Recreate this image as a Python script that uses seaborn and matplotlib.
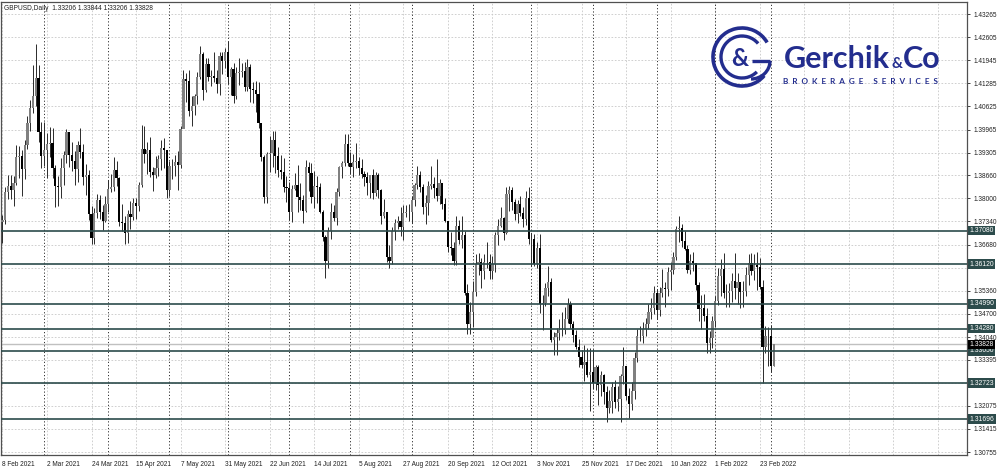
"""GBPUSD daily candles, Feb 2021 - Mar 2022, with support/resistance levels."""

import numpy as np
import pandas as pd
import seaborn as sns
import matplotlib.pyplot as plt
from matplotlib.patches import Arc
from matplotlib.transforms import blended_transform_factory

symbol = 'GBPUSD,Daily'
header_ohlc = ['1.33206', '1.33844', '1.33206', '1.33828']
start_date = '2021-02-08'
first_open = 1.3732

# daily closes / highs / lows (open = previous close)
closes = [
    1.3737, 1.3818, 1.3836, 1.3823, 1.3843, 1.3917, 1.3920, 1.3884, 1.3953, 1.4014, 1.4058, 1.4093, 1.4144, 1.3990, 1.3922,
    1.3937, 1.3954, 1.3957, 1.3887, 1.3834, 1.3832, 1.3887, 1.3923, 1.3990, 1.3925, 1.3906, 1.3883, 1.3951, 1.3933, 1.3862,
    1.3868, 1.3756, 1.3688, 1.3758, 1.3795, 1.3762, 1.3736, 1.3783,
    1.3828, 1.3832, 1.3880, 1.3857, 1.3733, 1.3729, 1.3702, 1.3756, 1.3748, 1.3787, 1.3779, 1.3839, 1.3942, 1.3928, 1.3937,
    1.3876, 1.3868, 1.3887, 1.3911, 1.3944, 1.3938, 1.3825,
    1.3892, 1.3893, 1.3905, 1.3895, 1.3998, 1.4140, 1.4136, 1.4050, 1.4064, 1.4093, 1.4148, 1.4212, 1.4110, 1.4185, 1.4148,
    1.4149, 1.4143, 1.4127, 1.4208, 1.4191, 1.4219,
    1.4148, 1.4170, 1.4091, 1.4158, 1.4162, 1.4163, 1.4117, 1.4175, 1.4112, 1.4109, 1.4099, 1.4014, 1.3918, 1.3803, 1.3926,
    1.3930, 1.3966, 1.3922, 1.3880, 1.3876, 1.3833, 1.3829,
    1.3762, 1.3826, 1.3837, 1.3803, 1.3795, 1.3764, 1.3890, 1.3873, 1.3805, 1.3834, 1.3832, 1.3762, 1.3690, 1.3620, 1.3708,
    1.3760, 1.3745, 1.3817, 1.3889, 1.3902, 1.3955, 1.3900,
    1.3890, 1.3904, 1.3906, 1.3886, 1.3870, 1.3861, 1.3845, 1.3866, 1.3816, 1.3866, 1.3825, 1.3749, 1.3760, 1.3632, 1.3622,
    1.3707, 1.3731, 1.3734, 1.3717, 1.3759, 1.3762, 1.3760,
    1.3796, 1.3837, 1.3868, 1.3832, 1.3776, 1.3788, 1.3835, 1.3840, 1.3829, 1.3806, 1.3843, 1.3784, 1.3736, 1.3660, 1.3659,
    1.3622, 1.3720, 1.3680, 1.3694, 1.3531, 1.3441, 1.3474,
    1.3532, 1.3612, 1.3618, 1.3592, 1.3618, 1.3617, 1.3593, 1.3613, 1.3695, 1.3721, 1.3744, 1.3702, 1.3813, 1.3825, 1.3789,
    1.3756, 1.3784, 1.3758, 1.3742, 1.3800, 1.3683,
    1.3684, 1.3612, 1.3658, 1.3497, 1.3500, 1.3544, 1.3560, 1.3395, 1.3403, 1.3416, 1.3425, 1.3424, 1.3455, 1.3497, 1.3440,
    1.3409, 1.3375, 1.3347, 1.3323, 1.3333, 1.3296, 1.3303,
    1.3274, 1.3318, 1.3266, 1.3296, 1.3248, 1.3202, 1.3222, 1.3262, 1.3219, 1.3228, 1.3293, 1.3322, 1.3235, 1.3212, 1.3250,
    1.3343, 1.3407, 1.3408, 1.3428, 1.3442, 1.3475, 1.3488, 1.3530,
    1.3482, 1.3530, 1.3545, 1.3540, 1.3590, 1.3594, 1.3633, 1.3712, 1.3714, 1.3677, 1.3656, 1.3596, 1.3620, 1.3614, 1.3552,
    1.3485, 1.3488, 1.3465, 1.3388, 1.3401, 1.3450,
    1.3508, 1.3579, 1.3599, 1.3530, 1.3531, 1.3535, 1.3565, 1.3545, 1.3561, 1.3533, 1.3535, 1.3581, 1.3616, 1.3592, 1.3609,
    1.3605, 1.3546, 1.3375, 1.3406, 1.3406, 1.33206, 1.33828,
]
highs = [
    1.3752, 1.3833, 1.3866, 1.3866, 1.3865, 1.3951, 1.3950, 1.3937, 1.3966, 1.4035, 1.4080, 1.4180, 1.4241, 1.4182, 1.4017,
    1.4017, 1.3987, 1.4003, 1.4002, 1.3895, 1.3865, 1.3916, 1.3934, 1.3999, 1.3986, 1.3960, 1.3935, 1.3965, 1.4001, 1.3954,
    1.3899, 1.3881, 1.3777, 1.3773, 1.3813, 1.3809, 1.3780, 1.3808,
    1.3851, 1.3869, 1.3919, 1.3908, 1.3861, 1.3785, 1.3751, 1.3766, 1.3792, 1.3801, 1.3801, 1.3846, 1.4009, 1.4008, 1.3960,
    1.3974, 1.3889, 1.3922, 1.3925, 1.3966, 1.3971, 1.3936,
    1.3906, 1.3911, 1.3924, 1.3936, 1.4006, 1.4166, 1.4159, 1.4167, 1.4091, 1.4097, 1.4160, 1.4234, 1.4219, 1.4200, 1.4200,
    1.4167, 1.4219, 1.4167, 1.4218, 1.4217, 1.4230,
    1.4249, 1.4176, 1.4187, 1.4176, 1.4200, 1.4188, 1.4190, 1.4198, 1.4185, 1.4131, 1.4136, 1.4131, 1.3988, 1.3925, 1.3932,
    1.3977, 1.3993, 1.3991, 1.3948, 1.3923, 1.3915, 1.3865,
    1.3848, 1.3839, 1.3871, 1.3896, 1.3844, 1.3811, 1.3909, 1.3905, 1.3901, 1.3878, 1.3863, 1.3845, 1.3766, 1.3696, 1.3719,
    1.3788, 1.3781, 1.3830, 1.3893, 1.3908, 1.3984, 1.3983,
    1.3933, 1.3926, 1.3959, 1.3918, 1.3911, 1.3879, 1.3876, 1.3868, 1.3884, 1.3874, 1.3872, 1.3826, 1.3798, 1.3760, 1.3667,
    1.3718, 1.3742, 1.3751, 1.3774, 1.3780, 1.3780, 1.3785,
    1.3808, 1.3843, 1.3891, 1.3878, 1.3841, 1.3810, 1.3849, 1.3891, 1.3860, 1.3913, 1.3855, 1.3842, 1.3800, 1.3736, 1.3704,
    1.3675, 1.3749, 1.3739, 1.3749, 1.3706, 1.3556, 1.3504,
    1.3563, 1.3640, 1.3643, 1.3630, 1.3640, 1.3674, 1.3640, 1.3634, 1.3705, 1.3740, 1.3774, 1.3746, 1.3833, 1.3834, 1.3832,
    1.3797, 1.3795, 1.3808, 1.3776, 1.3820, 1.3831,
    1.3700, 1.3697, 1.3674, 1.3697, 1.3525, 1.3559, 1.3607, 1.3573, 1.3419, 1.3429, 1.3455, 1.3476, 1.3489, 1.3514, 1.3508,
    1.3449, 1.3423, 1.3399, 1.3367, 1.3380, 1.3373, 1.3374,
    1.3371, 1.3324, 1.3324, 1.3306, 1.3297, 1.3263, 1.3252, 1.3275, 1.3282, 1.3263, 1.3299, 1.3375, 1.3315, 1.3259, 1.3276,
    1.3361, 1.3426, 1.3436, 1.3446, 1.3457, 1.3498, 1.3515, 1.3549,
    1.3540, 1.3548, 1.3599, 1.3561, 1.3603, 1.3619, 1.3647, 1.3722, 1.3749, 1.3728, 1.3707, 1.3666, 1.3640, 1.3646, 1.3614,
    1.3560, 1.3523, 1.3528, 1.3487, 1.3420, 1.3463,
    1.3520, 1.3600, 1.3628, 1.3644, 1.3554, 1.3558, 1.3588, 1.3643, 1.3586, 1.3559, 1.3563, 1.3604, 1.3641, 1.3643, 1.3642,
    1.3646, 1.3630, 1.3567, 1.3436, 1.3433, 1.3437, 1.33844,
]
lows = [
    1.3672, 1.3727, 1.3797, 1.3797, 1.3778, 1.3837, 1.3859, 1.3806, 1.3854, 1.3942, 1.3991, 1.4045, 1.4064, 1.3960, 1.3888,
    1.3891, 1.3858, 1.3917, 1.3858, 1.3776, 1.3778, 1.3800, 1.3838, 1.3901, 1.3890, 1.3878, 1.3837, 1.3846, 1.3915, 1.3837,
    1.3810, 1.3738, 1.3670, 1.3670, 1.3744, 1.3741, 1.3711, 1.3732,
    1.3761, 1.3817, 1.3822, 1.3834, 1.3720, 1.3708, 1.3669, 1.3673, 1.3712, 1.3737, 1.3740, 1.3765, 1.3831, 1.3900, 1.3870,
    1.3860, 1.3822, 1.3857, 1.3864, 1.3880, 1.3888, 1.3801,
    1.3808, 1.3854, 1.3865, 1.3825, 1.3887, 1.4000, 1.4076, 1.4036, 1.4006, 1.4038, 1.4069, 1.4140, 1.4081, 1.4103, 1.4134,
    1.4121, 1.4133, 1.4101, 1.4094, 1.4154, 1.4173,
    1.4128, 1.4094, 1.4073, 1.4083, 1.4125, 1.4146, 1.4106, 1.4106, 1.4075, 1.4072, 1.4048, 1.4002, 1.3908, 1.3787, 1.3787,
    1.3876, 1.3889, 1.3872, 1.3861, 1.3856, 1.3819, 1.3791,
    1.3739, 1.3732, 1.3823, 1.3760, 1.3768, 1.3730, 1.3760, 1.3821, 1.3786, 1.3772, 1.3787, 1.3758, 1.3677, 1.3572, 1.3601,
    1.3685, 1.3736, 1.3723, 1.3808, 1.3857, 1.3891, 1.3893,
    1.3870, 1.3862, 1.3888, 1.3866, 1.3859, 1.3835, 1.3810, 1.3800, 1.3797, 1.3807, 1.3800, 1.3728, 1.3744, 1.3617, 1.3601,
    1.3613, 1.3680, 1.3713, 1.3692, 1.3681, 1.3747, 1.3736,
    1.3731, 1.3778, 1.3827, 1.3819, 1.3755, 1.3726, 1.3752, 1.3826, 1.3800, 1.3793, 1.3785, 1.3770, 1.3732, 1.3646, 1.3639,
    1.3611, 1.3611, 1.3671, 1.3659, 1.3524, 1.3412, 1.3412,
    1.3433, 1.3520, 1.3582, 1.3545, 1.3570, 1.3600, 1.3569, 1.3570, 1.3591, 1.3667, 1.3718, 1.3680, 1.3697, 1.3765, 1.3768,
    1.3739, 1.3730, 1.3749, 1.3717, 1.3725, 1.3671,
    1.3606, 1.3606, 1.3602, 1.3473, 1.3425, 1.3493, 1.3522, 1.3389, 1.3352, 1.3353, 1.3396, 1.3406, 1.3412, 1.3443, 1.3429,
    1.3389, 1.3369, 1.3318, 1.3316, 1.3278, 1.3290, 1.3194,
    1.3256, 1.3252, 1.3209, 1.3235, 1.3214, 1.3160, 1.3188, 1.3186, 1.3201, 1.3192, 1.3162, 1.3271, 1.3224, 1.3174, 1.3195,
    1.3228, 1.3334, 1.3394, 1.3387, 1.3407, 1.3428, 1.3455, 1.3469,
    1.3456, 1.3465, 1.3519, 1.3491, 1.3522, 1.3538, 1.3583, 1.3625, 1.3675, 1.3662, 1.3652, 1.3587, 1.3584, 1.3592, 1.3537,
    1.3451, 1.3426, 1.3451, 1.3359, 1.3358, 1.3372,
    1.3433, 1.3496, 1.3522, 1.3516, 1.3489, 1.3490, 1.3505, 1.3513, 1.3497, 1.3487, 1.3491, 1.3521, 1.3552, 1.3582, 1.3568,
    1.3538, 1.3540, 1.3272, 1.3358, 1.3322, 1.3305, 1.33206,
]

levels = [1.37080, 1.36120, 1.34990, 1.34280, 1.33650, 1.32723, 1.31696]
last_price = 1.33828
price_ticks = [1.43265, 1.42605, 1.41945, 1.41285, 1.40625, 1.39965, 1.39305, 1.38660, 1.38000, 1.37340,
               1.36680, 1.36020, 1.35360, 1.34700, 1.34040, 1.33395, 1.32735, 1.32075, 1.31415, 1.30755]
hidden_ticks = [1.36020, 1.32735]  # covered by level labels in the terminal

LEVEL_COLOR = '#2c4b4b'
LOGO_COLOR = '#232d8e'

df = pd.DataFrame({'close': closes, 'high': highs, 'low': lows})
df['open'] = [first_open] + closes[:-1]
df['date'] = pd.bdate_range(start_date, periods=len(df))
df['bull'] = df['close'] >= df['open']

sns.set_theme(style='white')
plt.rcParams['font.family'] = ['Liberation Sans', 'DejaVu Sans']

fig = plt.figure(figsize=(10, 4.68), dpi=100)
ax = fig.add_axes([1 / 1000, 1 - 455 / 468, 966 / 1000, 453 / 468])
ax.set_facecolor('white')

xmin, xmax = -0.5, 346.4
ax.set_xlim(xmin, xmax)
ax.set_ylim(1.30670, 1.43608)

# grid: light dashed at ticks, dotted separators at month starts
tick_idx = np.arange(0, int(xmax) + 1, 16)
for p in price_ticks:
    ax.axhline(p, color='#c8c8c8', lw=0.6, ls=(0, (2, 2)), zorder=0)
for i in tick_idx:
    ax.axvline(i, color='#c8c8c8', lw=0.6, ls=(0, (2, 2)), zorder=0)
month_starts = df.index[df['date'].dt.month != df['date'].shift().dt.month][1:]
for i in month_starts:
    ax.axvline(i, color='#303030', lw=0.7, ls=(0, (1.2, 2.2)), zorder=1)

# candles
ax.vlines(df.index, df['low'], df['high'], color='#2a2a2a', lw=0.7, zorder=3)
body = (df['close'] - df['open']).abs().clip(lower=0.00006)
ax.bar(df.index, body, bottom=df[['open', 'close']].min(axis=1), width=0.8,
       color=np.where(df['bull'], '#808080', '#000000'), linewidth=0, zorder=4)

# levels
trans = blended_transform_factory(ax.transAxes, ax.transData)
ax.axhline(last_price, color='#c0c0c0', lw=1.0, zorder=2)
for lv in levels:
    ax.axhline(lv, color=LEVEL_COLOR, lw=1.2, zorder=5)

# axes / ticks
ax.yaxis.tick_right()
ax.set_yticks(price_ticks)
ax.set_yticklabels(['' if p in hidden_ticks else f'{p:.5f}' for p in price_ticks])
ax.tick_params(axis='y', labelsize=4.7, length=2.5, width=0.6, pad=2, colors='#202020')
lab_idx = [i for i in tick_idx if i < len(df)]
ax.set_xticks(lab_idx)
ax.set_xticklabels([f"{d.day} {d:%b %Y}" for d in df['date'].iloc[lab_idx]], ha='left')
ax.tick_params(axis='x', labelsize=4.7, length=2.5, width=0.6, pad=1.5, colors='#202020')
for s in ax.spines.values():
    s.set_color('#505050')
    s.set_linewidth(0.9)

for lv in levels:
    ax.text(1.0025, lv, f'{lv:.5f}', transform=trans, fontsize=4.9, color='white', va='center', ha='left',
            bbox=dict(boxstyle='square,pad=0.2', fc=LEVEL_COLOR, ec='none'), zorder=10, clip_on=False)
ax.text(1.0025, last_price, f'{last_price:.5f}', transform=trans, fontsize=4.9, color='white', va='center',
        ha='left', bbox=dict(boxstyle='square,pad=0.2', fc='black', ec='none'), zorder=11, clip_on=False)

ax.text(0.003, 0.993, f"{symbol}  {' '.join(header_ohlc)}", transform=ax.transAxes, fontsize=4.8,
        va='top', ha='left', color='#202020')

# logo overlay in pixel coordinates
lg = fig.add_axes([0, 0, 1, 1], facecolor='none')
lg.set_xlim(0, 1000)
lg.set_ylim(468, 0)
lg.axis('off')
cx, cy = 742, 57
lg.add_patch(Arc((cx, cy), 58, 58, theta1=40, theta2=330, color=LOGO_COLOR, lw=2.6))
lg.add_patch(Arc((cx, cy), 42, 42, theta1=45, theta2=320, color=LOGO_COLOR, lw=2.4))
lg.plot([cx + 10, cx + 28], [cy + 4, cy + 4], color=LOGO_COLOR, lw=2.4, solid_capstyle='butt')
lg.add_patch(Arc((cx + 9, cy + 4), 38, 36, theta1=0, theta2=90, color=LOGO_COLOR, lw=2.4))
lg.text(cx - 2, cy + 2, '&', fontsize=17, fontweight='bold', color=LOGO_COLOR, ha='center', va='center',
        family='Lato')
lg.text(784, 68, 'Gerchik', fontsize=22, color=LOGO_COLOR, family='Lato', fontweight='bold', va='baseline')
lg.text(892, 68, '&', fontsize=11, color=LOGO_COLOR, family='Lato', fontweight='bold', va='baseline')
lg.text(903, 68, 'Co', fontsize=22, color=LOGO_COLOR, family='Lato', fontweight='bold', va='baseline')
lg.text(783, 84, 'B  R  O  K  E  R  A  G  E     S  E  R  V  I  C  E  S', fontsize=5.9, color=LOGO_COLOR,
        family='Lato', fontweight='bold', va='baseline')

fig.savefig('out.png', dpi=100, facecolor='white')
